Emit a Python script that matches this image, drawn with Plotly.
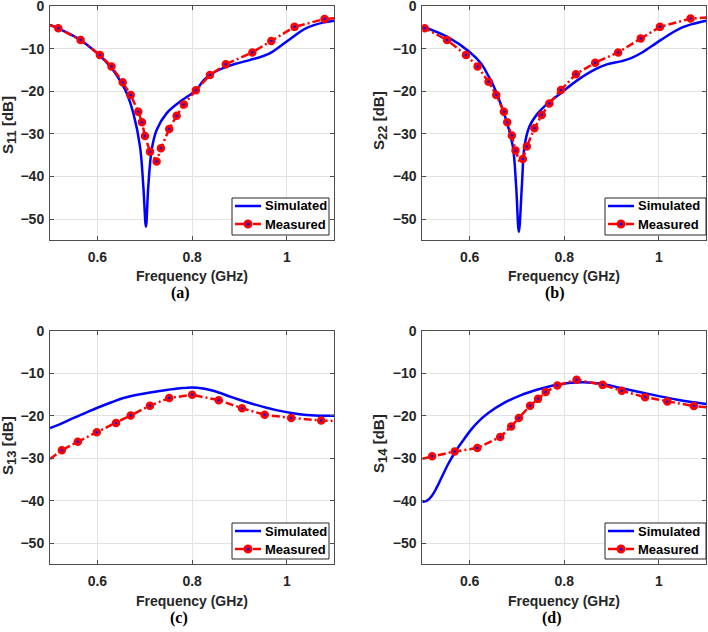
import plotly.graph_objects as go

# ---------------- data (frequency in GHz, magnitude in dB) ----------------
# (a) S11
a_sim_f = [0.50, 0.52, 0.56, 0.60, 0.63, 0.651, 0.662, 0.676, 0.690, 0.697, 0.7025,
           0.7074, 0.7145, 0.725, 0.746, 0.774, 0.809, 0.823, 0.840, 0.865, 0.8935,
           0.9215, 0.9636, 0.9987, 1.0408, 1.0758, 1.10]
a_sim_db = [-4.46, -5.4, -7.7, -11.1, -14.6, -18.1, -20.5, -25.2, -33.0, -42.4, -51.8,
            -42.4, -33.8, -29.1, -25.2, -22.5, -19.7, -17.6, -16.0, -14.6, -13.5,
            -12.7, -11.1, -8.4, -5.2, -3.9, -3.45]
a_meas_f = [0.50, 0.5175, 0.5646, 0.6053, 0.6298, 0.6534, 0.6703, 0.6863, 0.6941, 0.7004,
            0.711, 0.725, 0.7341, 0.7516, 0.7672, 0.7825, 0.8078, 0.8375, 0.871, 0.927,
            0.967, 1.016, 1.0794, 1.10]
a_meas_db = [-4.5, -5.2, -8.0, -11.5, -14.2, -17.9, -20.9, -24.8, -27.3, -30.5,
             -34.2, -36.5, -33.4, -28.9, -25.75, -23.1, -19.8, -16.2, -13.7, -10.9,
             -8.2, -4.9, -3.05, -2.9]
a_meas_mark = [0] + [1] * 22 + [0]

# (b) S22
b_sim_f = [0.50, 0.552, 0.60, 0.625, 0.64, 0.6457, 0.660, 0.6773, 0.6913, 0.6983, 0.704,
           0.7103, 0.7158, 0.7263, 0.744, 0.765, 0.793, 0.828, 0.863, 0.890, 0.919,
           0.940, 0.9615, 1.0036, 1.0457, 1.075, 1.10]
b_sim_db = [-4.8, -7.2, -10.8, -13.6, -16.5, -17.6, -21.3, -26.8, -33.0, -42.4, -53.0,
            -42.4, -33.0, -28.3, -25.2, -22.85, -20.4, -17.4, -15.0, -13.7, -13.0,
            -12.3, -11.1, -8.0, -5.2, -4.1, -3.45]
b_meas_f = [0.50, 0.505, 0.5523, 0.5923, 0.6168, 0.640, 0.6562, 0.6724, 0.6794, 0.6892,
            0.6969, 0.7053, 0.7124, 0.7208, 0.7368, 0.7524, 0.7684, 0.793, 0.8246, 0.8653,
            0.9137, 0.9615, 1.0021, 1.0667, 1.10]
b_meas_db = [-5.0, -5.2, -8.0, -11.5, -14.2, -17.8, -20.9, -24.8, -27.3, -30.4,
             -33.9, -36.5, -35.9, -33.0, -28.7, -25.6, -22.9, -19.7, -16.0, -13.3,
             -10.9, -7.6, -4.9, -2.95, -2.7]
b_meas_mark = [0] + [1] * 10 + [0] + [1] * 12 + [0]

# (c) S13
c_sim_f = [0.50, 0.525, 0.55, 0.575, 0.60, 0.63, 0.655, 0.69, 0.711, 0.746, 0.775, 0.80,
           0.82, 0.8442, 0.8863, 0.9284, 0.9775, 1.0267, 1.06, 1.10]
c_sim_db = [-22.9, -21.8, -20.5, -19.3, -18.1, -16.8, -15.8, -14.9, -14.5, -13.9, -13.5, -13.3,
            -13.5, -14.1, -15.7, -17.2, -18.65, -19.6, -19.9, -20.0]
c_meas_f = [0.50, 0.525, 0.5587, 0.5987, 0.6394, 0.6703, 0.711, 0.7516, 0.80, 0.8561,
            0.9053, 0.953, 1.0091, 1.0723, 1.10]
c_meas_db = [-30.2, -28.1, -26.1, -23.85, -21.7, -19.9, -17.6, -15.8, -15.05, -16.3,
             -18.2, -19.75, -20.5, -21.1, -21.2]
c_meas_mark = [0] + [1] * 13 + [0]

# (d) S14
d_sim_f = [0.50, 0.51, 0.52, 0.53, 0.54, 0.555, 0.5684, 0.585, 0.6036, 0.62, 0.6387,
           0.6737, 0.7088, 0.744, 0.786, 0.839, 0.881, 0.9215, 0.968, 1.039, 1.10]
d_sim_db = [-40.3, -40.0, -38.9, -37.0, -34.7, -31.3, -28.7, -26.0, -23.2, -21.2, -19.4,
            -16.9, -15.1, -13.8, -12.6, -12.07, -12.5, -13.5, -14.6, -16.2, -17.2]
d_meas_f = [0.50, 0.5208, 0.5684, 0.6162, 0.6646, 0.6878, 0.704, 0.7278, 0.7446, 0.7608,
            0.7853, 0.826, 0.881, 0.9215, 0.9706, 1.0177, 1.0737, 1.10]
d_meas_db = [-30.1, -29.55, -28.4, -27.6, -25.0, -22.5, -20.5, -17.6, -16.0, -14.4,
             -12.85, -11.5, -12.7, -14.1, -15.6, -16.6, -17.7, -18.0]
d_meas_mark = [0] + [1] * 16 + [0]

y_subscripts = ["11", "22", "13", "14"]
panel_letters = ["(a)", "(b)", "(c)", "(d)"]
x_ticks = [0.6, 0.8, 1.0]
x_ticktext = ["0.6", "0.8", "1"]
y_ticks = [0, -10, -20, -30, -40, -50]
series_names = ["Simulated", "Measured"]

panels = [
    (a_sim_f, a_sim_db, a_meas_f, a_meas_db, a_meas_mark),
    (b_sim_f, b_sim_db, b_meas_f, b_meas_db, b_meas_mark),
    (c_sim_f, c_sim_db, c_meas_f, c_meas_db, c_meas_mark),
    (d_sim_f, d_sim_db, d_meas_f, d_meas_db, d_meas_mark),
]

# ---------------- layout geometry (pixels) ----------------
W, H = 708, 632
px_x = [(50, 334.3), (422.3, 706.3), (50, 334.3), (422.3, 706.3)]
px_y = [(6, 240.3), (6, 240.3), (331, 564.3), (331, 564.3)]
xtitle_pos = [(191.7, 276), (563.5, 276), (191.7, 601), (563.5, 601)]
letter_pos = [(180, 293), (554.7, 293), (179, 617.5), (551.5, 617.5)]
ytitle_pos = [(9, 125), (380, 121), (9, 446), (380, 444)]
legend_box = [(232, 198, 329, 235), (605, 198, 706, 235), (232, 523, 329, 559), (605, 523, 706, 559)]

BLUE = "#0000FF"
RED = "#FF0000"
TXT = "#262626"
FONT = "Liberation Sans, Arial, sans-serif"
MEAS_DASH = "8px,3px,2px,3px"


def px(xp):
    return xp / W


def py(yp):
    return 1 - yp / H


fig = go.Figure()
for i, (sf, sd, mf, md, mk) in enumerate(panels):
    sfx = "" if i == 0 else str(i + 1)
    xa, ya = "x" + sfx, "y" + sfx
    fig.add_trace(go.Scatter(x=sf, y=sd, mode="lines", name=series_names[0], showlegend=False,
                             line=dict(color=BLUE, width=2.5, shape="spline", smoothing=1.0),
                             xaxis=xa, yaxis=ya))
    fig.add_trace(go.Scatter(x=mf, y=md, mode="lines", name=series_names[1], showlegend=False,
                             line=dict(color=RED, width=2.5, dash=MEAS_DASH),
                             xaxis=xa, yaxis=ya))
    fig.add_trace(go.Scatter(x=[f for f, m in zip(mf, mk) if m],
                             y=[d for d, m in zip(md, mk) if m],
                             mode="markers", name=series_names[1], showlegend=False,
                             marker=dict(color=BLUE, size=5.5, line=dict(color=RED, width=3)),
                             xaxis=xa, yaxis=ya))

axis_common = dict(showline=True, linecolor="#4d4d4d", linewidth=1, mirror="ticks",
                   ticks="inside", ticklen=4, tickcolor="#4d4d4d", automargin=False,
                   ticklabeloverflow="allow",
                   showgrid=True, gridcolor="#e3e3e3", gridwidth=1, zeroline=False,
                   tickfont=dict(family=FONT, size=14, color=TXT, weight="bold"))

layout = dict(width=W, height=H, margin=dict(l=0, r=0, t=0, b=0, pad=0, autoexpand=False),
              showlegend=False,
              paper_bgcolor="white", plot_bgcolor="white", annotations=[], shapes=[])
for i in range(4):
    sfx = "" if i == 0 else str(i + 1)
    x0, x1 = px_x[i]
    y0, y1 = px_y[i]
    layout["xaxis" + sfx] = dict(axis_common, domain=[px(x0), px(x1)], range=[0.5, 1.1],
                                 tickvals=x_ticks, ticktext=x_ticktext,
                                 anchor="y" + sfx, ticklabelstandoff=4)
    layout["yaxis" + sfx] = dict(axis_common, domain=[py(y1), py(y0)], range=[-55, 0],
                                 tickvals=y_ticks, anchor="x" + sfx, ticklabelstandoff=2)
    tx, ty = xtitle_pos[i]
    layout["annotations"].append(dict(text="Frequency (GHz)", x=px(tx), y=py(ty),
                                      xref="paper", yref="paper", showarrow=False,
                                      xanchor="center", yanchor="middle",
                                      font=dict(family=FONT, size=14, color=TXT, weight="bold")))
    lx2, ly2 = letter_pos[i]
    layout["annotations"].append(dict(text=panel_letters[i], x=px(lx2), y=py(ly2),
                                      xref="paper", yref="paper", showarrow=False,
                                      xanchor="center", yanchor="middle",
                                      font=dict(family="Liberation Serif, Times New Roman, serif",
                                                size=16, color="black", weight="bold")))
    yx, yy = ytitle_pos[i]
    ytext = ("S<sub><span style='font-size:13px'>" + y_subscripts[i] + "</span></sub> [dB]")
    layout["annotations"].append(dict(text=ytext, x=px(yx), y=py(yy),
                                      xref="paper", yref="paper", showarrow=False,
                                      textangle=-90, xanchor="center", yanchor="middle",
                                      font=dict(family=FONT, size=15, color=TXT, weight="bold")))
    # legend box drawn with shapes and annotations
    L, T, R, B = legend_box[i]
    layout["shapes"].append(dict(type="rect", xref="paper", yref="paper",
                                 x0=px(L), x1=px(R), y0=py(B), y1=py(T),
                                 line=dict(color="#262626", width=1), fillcolor="white"))
    r1, r2 = T + 8, T + 26
    layout["shapes"].append(dict(type="line", xref="paper", yref="paper",
                                 x0=px(L + 3), x1=px(L + 29), y0=py(r1), y1=py(r1),
                                 line=dict(color=BLUE, width=2.5)))
    layout["shapes"].append(dict(type="line", xref="paper", yref="paper",
                                 x0=px(L + 3), x1=px(L + 29), y0=py(r2), y1=py(r2),
                                 line=dict(color=RED, width=2.5, dash="dash")))
    mc = L + 16
    layout["shapes"].append(dict(type="circle", xref="paper", yref="paper",
                                 x0=px(mc - 3), x1=px(mc + 3), y0=py(r2 + 3), y1=py(r2 - 3),
                                 line=dict(color=RED, width=3), fillcolor=BLUE))
    for name, ry in zip(series_names, (r1, r2)):
        layout["annotations"].append(dict(text=name, x=px(L + 31), y=py(ry),
                                          xref="paper", yref="paper", showarrow=False,
                                          xanchor="left", yanchor="middle",
                                          font=dict(family=FONT, size=13, color="black",
                                                    weight="bold")))

fig.update_layout(**layout)
fig.write_html(
    "out.html",
    config={"displayModeBar": False},
    post_script=("document.body.style.margin='0';document.body.style.overflow='hidden';"
                 "var gd=document.getElementById('{plot_id}');"
                 "gd.style.position='absolute';gd.style.top='0px';gd.style.left='0px';"),
)
